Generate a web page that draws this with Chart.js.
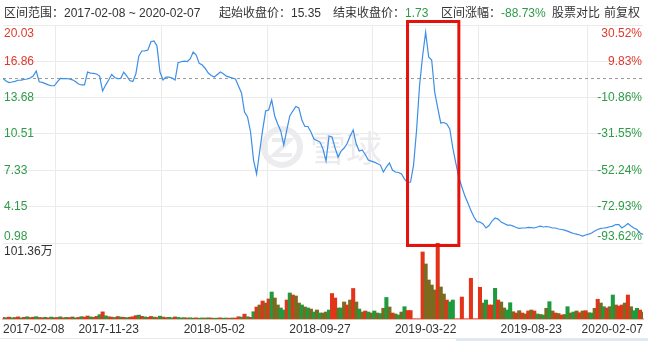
<!DOCTYPE html>
<html>
<head>
<meta charset="utf-8">
<script src="https://cdn.jsdelivr.net/npm/chart.js@4/dist/chart.umd.min.js"></script>
<style>
  body { margin: 0; background: #fff; }
  #wrap { position: relative; width: 648px; height: 341px; overflow: hidden; font-family: Arial, "Liberation Sans", "Noto Sans CJK SC", sans-serif; }
  #chart { position: absolute; left: 0; top: 0; }
  .hd { position: absolute; top: 5px; font-size: 12px; line-height: 16px; color: #333; white-space: nowrap; }
  .dn { color: #2e9b48; }
  #foot { position: absolute; left: 0; top: 338px; width: 648px; height: 1px; background: #e6e9ee; }
  #nav { position: absolute; left: 456px; top: 339px; width: 192px; height: 2px; background: #dde9f6; }
</style>
</head>
<body>
<div id="wrap">
  <canvas id="chart" width="648" height="341"></canvas>
  <div class="hd" style="left:4px">区间范围：2017-02-08 ~ 2020-02-07</div>
  <div class="hd" style="left:219px">起始收盘价：15.35</div>
  <div class="hd" style="left:333px">结束收盘价：<span class="dn">1.73</span></div>
  <div class="hd" style="left:441px">区间涨幅：<span class="dn">-88.73%</span></div>
  <div class="hd" style="left:552px">股票对比</div>
  <div class="hd" style="left:604px">前复权</div>
  <div id="foot"></div>
  <div id="nav"></div>
</div>
<script>
// closing price (qfq), one point per ~3 trading days, 2017-02-08 .. 2020-02-07
const prices = [
  15.35,15.14,15.00,15.05,15.11,15.20,15.22,15.28,15.31,15.40,
  15.57,16.01,15.07,15.02,14.91,14.80,14.72,14.72,15.05,15.37,
  15.35,15.34,15.31,15.24,15.09,14.87,14.79,14.80,15.92,15.83,
  15.81,15.75,15.57,14.26,14.78,15.22,15.70,15.44,15.35,15.37,
  15.92,15.57,15.18,15.09,15.75,17.32,17.76,17.77,17.84,18.57,
  18.63,18.19,15.92,15.22,15.48,15.48,15.40,15.22,16.73,16.82,
  16.88,16.84,17.06,17.67,17.41,16.68,16.53,16.23,15.83,15.61,
  15.48,15.70,15.92,15.77,15.56,15.48,15.40,15.31,14.70,14.09,
  12.43,11.99,10.68,8.23,7.01,8.93,10.85,12.51,12.60,13.48,
  12.08,11.38,10.77,9.54,10.85,12.08,12.51,12.91,12.78,11.73,
  11.16,11.16,10.68,10.07,9.94,9.80,9.19,8.14,10.33,10.24,
  9.28,8.49,9.02,9.28,9.67,10.33,10.85,9.63,9.02,9.11,
  8.71,8.23,8.14,8.05,7.93,7.79,7.18,7.62,7.97,7.36,
  7.18,7.14,7.01,6.57,6.25,6.31,7.79,10.85,14.78,17.32,
  19.40,17.23,16.97,14.17,12.78,11.47,11.51,11.38,10.94,9.28,
  7.97,6.70,5.87,5.08,4.47,3.81,3.25,2.85,2.81,2.64,
  2.29,2.51,2.90,3.16,3.07,2.81,2.68,2.55,2.55,2.46,
  2.33,2.26,2.29,2.29,2.35,2.33,2.29,2.38,2.46,2.38,
  2.42,2.38,2.29,2.29,2.20,2.16,2.11,2.02,1.91,1.81,
  1.76,1.68,1.59,1.68,1.76,1.85,2.03,2.16,2.26,2.29,
  2.33,2.40,2.46,2.59,2.59,2.29,2.46,2.68,2.46,2.29,
  2.16,1.85,1.73
];

// volume in 万 for the same points
const volumes = [
  2.1,1.8,2.5,1.6,2.0,2.8,1.5,2.2,3.0,1.9,
  2.4,3.1,2.0,1.7,2.3,1.5,2.6,1.8,2.0,2.9,
  1.6,2.2,1.9,2.7,1.5,2.1,3.2,2.4,4.0,2.8,
  2.2,3.5,5.8,9.5,4.2,3.0,2.5,2.0,3.3,2.6,
  2.2,1.8,2.4,3.0,4.5,5.2,3.6,2.8,2.2,3.4,
  2.5,2.0,3.8,2.6,1.9,2.2,1.6,2.8,2.1,1.5,
  1.8,1.3,1.6,1.2,1.5,1.1,1.4,1.2,1.6,1.3,
  1.0,1.2,1.5,1.1,1.3,1.0,1.4,1.2,3.0,2.5,
  6.5,3.0,2.2,9.7,16.0,18.7,24.0,21.3,26.7,36.0,
  28.0,18.7,14.7,12.0,25.3,34.7,32.0,30.7,21.3,18.7,
  16.0,14.7,13.3,9.3,12.0,8.0,8.0,9.3,12.0,34.0,
  28.0,14.7,14.7,22.7,18.7,25.3,40.7,22.7,13.3,9.3,
  10.7,9.3,8.0,10.7,8.0,7.3,14.3,28.7,16.0,8.0,
  6.7,5.3,9.3,16.4,11.3,11.3,0,0,0,89.4,
  73.4,52.0,45.3,38.7,101.36,42.7,33.3,25.3,22.7,25.3,
  0,0,29.3,0,0,54.3,0,0,42.3,21.3,
  25.3,18.7,18.7,40.9,25.3,22.7,14.7,12.0,21.7,9.7,
  8.0,11.1,8.0,6.7,10.7,12.0,10.7,6.7,6.0,5.3,
  14.3,23.1,10.7,8.0,7.3,5.3,6.0,16.4,8.0,9.3,
  10.7,8.4,10.7,11.1,8.4,8.0,14.3,26.3,21.3,16.4,
  14.7,16.4,32.0,18.7,17.3,18.7,21.3,32.0,16.4,11.1,
  14.3,12.0,9.3
];

// 1 = up day, -1 = down day, 0 = mixed within the point
const volumeDir = [
  1,-1,1,-1,0,1,-1,1,-1,0,
  1,-1,0,1,-1,1,-1,0,1,-1,
  1,-1,1,0,-1,1,-1,1,1,-1,
  0,1,-1,1,-1,0,1,-1,1,-1,
  1,-1,0,1,1,-1,1,-1,0,1,
  -1,1,-1,0,1,-1,-1,1,-1,-1,
  -1,1,-1,-1,1,-1,-1,0,-1,1,
  -1,-1,1,-1,-1,1,-1,1,1,-1,
  1,-1,1,-1,1,0,1,0,1,-1,
  0,0,-1,-1,1,-1,1,0,0,-1,
  0,-1,0,-1,0,-1,0,0,-1,1,
  1,0,-1,0,1,0,1,0,-1,0,
  1,-1,0,-1,0,-1,0,-1,0,1,
  0,-1,0,-1,1,1,1,1,1,1,
  0,0,0,0,1,0,0,1,-1,-1,
  1,1,1,1,1,1,1,1,1,0,
  -1,1,1,-1,1,0,0,-1,-1,0,
  1,0,1,0,1,0,1,-1,0,-1,
  0,-1,0,1,0,1,0,-1,0,-1,
  0,1,0,1,0,-1,0,1,0,-1,
  1,0,-1,0,1,1,0,1,0,-1,
  -1,1,0
];

const startPrice = 15.35;
const priceTicks = [20.03, 16.86, 13.68, 10.51, 7.33, 4.15, 0.98];
const pctLabels = ['30.52%', '9.83%', '-10.86%', '-31.55%', '-52.24%', '-72.93%', '-93.62%'];
const xTickIdx = [0, 35, 70, 105, 140, 175, 212];
const xTickLabels = ['2017-02-08', '2017-11-23', '2018-05-02', '2018-09-27', '2019-03-22', '2019-08-23', '2020-02-07'];
const volMaxLabel = '101.36万';
const highlight = [134, 151]; // boxed range (point indices)

const RED = '#e0392c', GREEN = '#2e9b48';
const barColor = { '1': '#e3341a', '-1': '#1f9a3e', '0': '#7b6a1f' };
const FONT = '12px Arial, "Liberation Sans", "Noto Sans CJK SC", sans-serif';

const overlay = {
  id: 'overlay',
  beforeDatasetsDraw(chart) {
    // faint watermark
    const ctx = chart.ctx;
    ctx.save();
    ctx.strokeStyle = '#ececef';
    ctx.lineWidth = 6;
    ctx.beginPath();
    ctx.arc(282, 147, 18, 0, Math.PI * 2);
    ctx.stroke();
    ctx.beginPath();
    ctx.moveTo(272, 140); ctx.lineTo(290, 140); ctx.lineTo(274, 155); ctx.lineTo(292, 155);
    ctx.lineWidth = 4;
    ctx.stroke();
    ctx.fillStyle = '#ececef';
    ctx.font = '36px "Noto Sans CJK SC", sans-serif';
    ctx.textBaseline = 'middle';
    ctx.fillText('雪球', 310, 148);
    ctx.restore();
  },
  afterDraw(chart) {
    const ctx = chart.ctx, ys = chart.scales.y, yv = chart.scales.yv, xs = chart.scales.x;
    const area = chart.chartArea;
    ctx.save();
    ctx.font = FONT;
    ctx.textBaseline = 'middle';
    priceTicks.forEach((v, k) => {
      let py = ys.getPixelForValue(v);
      if (k === 0) py += 9;
      if (k === priceTicks.length - 1) py -= 6;
      ctx.fillStyle = v > startPrice ? RED : GREEN;
      ctx.textAlign = 'left';
      ctx.fillText(v.toFixed(2), area.left + 1, py);
      ctx.textAlign = 'right';
      ctx.fillText(pctLabels[k], area.right - 1, py);
    });
    ctx.fillStyle = '#333';
    ctx.textAlign = 'left';
    ctx.fillText(volMaxLabel, area.left + 1, yv.top + 9);

    // red highlight box
    const x1 = xs.getPixelForValue(highlight[0]);
    const x2 = xs.getPixelForValue(highlight[1]);
    ctx.strokeStyle = '#e3120b';
    ctx.lineWidth = 3;
    ctx.strokeRect(x1, area.top - 3.5, x2 - x1, ys.bottom + 2.5 - (area.top - 3.5));
    ctx.restore();
  }
};

new Chart(document.getElementById('chart'), {
  type: 'line',
  data: {
    datasets: [
      {
        data: prices.map((v, i) => ({ x: i, y: v })),
        yAxisID: 'y',
        borderColor: '#3d8ee6',
        borderWidth: 1.2,
        pointRadius: 0,
        tension: 0
      },
      {
        data: [{ x: 0, y: startPrice }, { x: prices.length - 1, y: startPrice }],
        yAxisID: 'y',
        borderColor: '#9a9a9a',
        borderWidth: 1,
        borderDash: [3, 3],
        pointRadius: 0
      },
      {
        type: 'bar',
        data: volumes.map((v, i) => ({ x: i, y: v })),
        yAxisID: 'yv',
        backgroundColor: volumeDir.map(d => barColor[d]),
        barThickness: 3.4,
        borderWidth: 0
      }
    ]
  },
  options: {
    responsive: false,
    animation: false,
    devicePixelRatio: 1,
    layout: { padding: { left: 2, right: 5, top: 25, bottom: 0 } },
    plugins: { legend: { display: false }, tooltip: { enabled: false } },
    scales: {
      x: {
        type: 'linear',
        min: 0,
        max: prices.length - 1,
        offset: false,
        afterBuildTicks: s => { s.ticks = xTickIdx.map(v => ({ value: v })); },
        afterFit: s => { s.height = 22; },
        ticks: {
          autoSkip: false,
          maxRotation: 0,
          align: 'inner',
          padding: 3,
          color: '#333',
          font: { family: 'Arial, "Liberation Sans"', size: 12 },
          callback: (v, i) => xTickLabels[i]
        },
        grid: { color: '#ebebeb', drawTicks: false },
        border: { display: true, color: '#f3b4ab', width: 2 }
      },
      y: {
        stack: 'main',
        stackWeight: 218,
        weight: 1,
        position: 'left',
        min: 0.98,
        max: 20.03,
        afterBuildTicks: s => { s.ticks = priceTicks.map(v => ({ value: v })); },
        afterFit: s => { s.width = 0; },
        ticks: { display: false },
        grid: { color: '#ebebeb', drawTicks: false },
        border: { display: false }
      },
      yv: {
        stack: 'main',
        stackWeight: 76,
        weight: 0,
        position: 'left',
        min: 0,
        max: 101.36,
        afterFit: s => { s.width = 0; },
        ticks: { display: false },
        grid: { display: false },
        border: { display: false }
      }
    }
  },
  plugins: [overlay]
});
</script>
</body>
</html>
